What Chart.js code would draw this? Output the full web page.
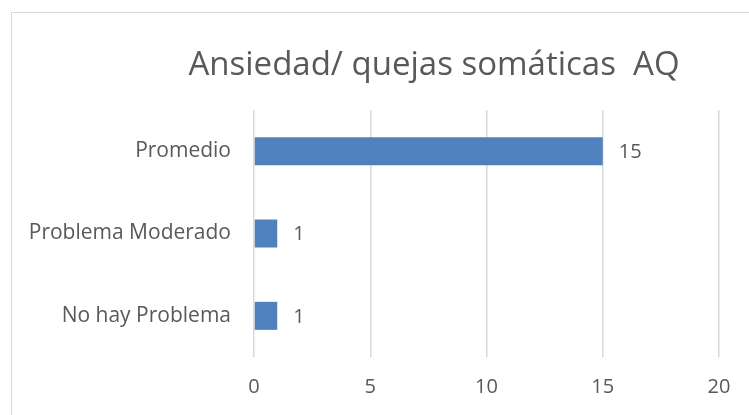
<!DOCTYPE html>
<html>
<head>
<meta charset="utf-8">
<script src="https://cdn.jsdelivr.net/npm/chart.js@4.4.0/dist/chart.umd.min.js"></script>
<style>
  html, body { margin:0; padding:0; background:#fff; }
  #wrap { position:relative; width:749px; height:415px; overflow:hidden; }
  #frame { position:absolute; left:11px; top:12px; width:900px; height:500px; border:1px solid #d9d9d9; box-sizing:border-box; }
  canvas { position:absolute; left:0; top:0; }
</style>
</head>
<body>
<div id="wrap">
  <div id="frame"></div>
  <canvas id="chart" width="749" height="415"></canvas>
</div>
<script>
// ── Data ──────────────────────────────────────────────────────────────────────
const titleText = 'Ansiedad/ quejas somáticas  AQ';
const categories = ['Promedio', 'Problema Moderado', 'No hay Problema'];
const counts = [15, 1, 1];
const xTicks = [0, 5, 10, 15, 20];

const FONT = "'Open Sans', sans-serif";
const TEXT = '#595959';

// title drawn centred on the outer frame, like the spreadsheet export
const titlePlugin = {
  id: 'titleText',
  afterDraw(chart) {
    const c = chart.ctx;
    c.save();
    c.font = '33px ' + FONT;
    c.fillStyle = TEXT;
    c.textAlign = 'center';
    c.textBaseline = 'middle';
    c.fillText(titleText, 434, 66);
    c.restore();
  }
};

// value labels to the right of each bar
const valueLabels = {
  id: 'valueLabels',
  afterDatasetsDraw(chart) {
    const c = chart.ctx;
    const meta = chart.getDatasetMeta(0);
    c.save();
    c.font = '20px ' + FONT;
    c.fillStyle = TEXT;
    c.textAlign = 'left';
    c.textBaseline = 'middle';
    meta.data.forEach((bar, i) => {
      c.fillText(String(counts[i]), bar.x + 16, bar.y + 1);
    });
    c.restore();
  }
};

new Chart(document.getElementById('chart'), {
  type: 'bar',
  data: {
    labels: categories,
    datasets: [{
      data: counts,
      backgroundColor: '#4F81BD',
      categoryPercentage: 1,
      barPercentage: 0.34
    }]
  },
  options: {
    indexAxis: 'y',
    responsive: false,
    animation: false,
    layout: { padding: { top: 110, right: 30, left: 0, bottom: 0 } },
    plugins: { legend: { display: false }, tooltip: { enabled: false }, title: { display: false } },
    scales: {
      x: {
        min: 0, max: 20,
        afterBuildTicks: s => { s.ticks = xTicks.map(v => ({ value: v })); },
        afterFit: s => { s.height = 58; },
        grid: { color: '#d9d9d9', lineWidth: 1.5, drawTicks: false },
        border: { display: false },
        ticks: { color: TEXT, font: { family: FONT, size: 20 }, padding: 18 }
      },
      y: {
        afterFit: s => { s.width = 254; },
        grid: { display: false, drawTicks: false },
        border: { display: false },
        ticks: { color: TEXT, font: { family: FONT, size: 21 }, padding: 23 }
      }
    }
  },
  plugins: [titlePlugin, valueLabels]
});
</script>
</body>
</html>
